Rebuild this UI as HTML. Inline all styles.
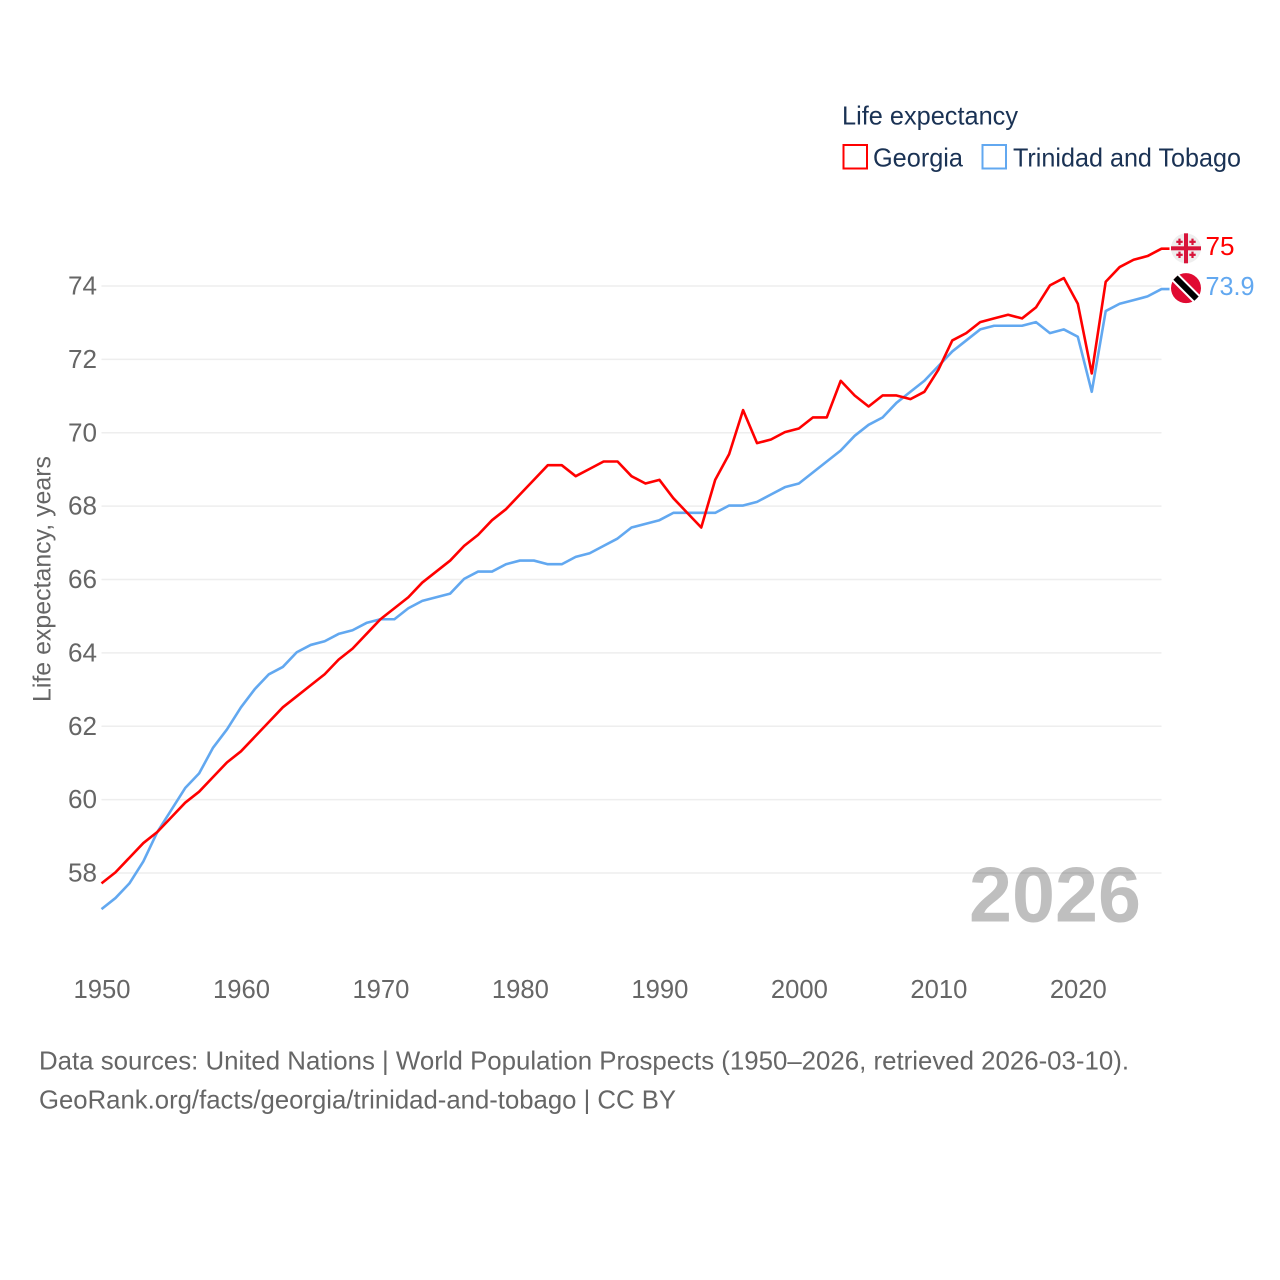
<!DOCTYPE html>
<html lang="en">
<head>
<meta charset="utf-8">
<title>Life expectancy: Georgia and Trinidad and Tobago</title>
<style>
html,body{margin:0;padding:0;background:#fff;}
svg{display:block;}
text{font-family:"Liberation Sans",sans-serif;}
</style>
</head>
<body>
<svg id="chart" xmlns="http://www.w3.org/2000/svg" width="1280" height="1280" viewBox="0 0 1280 1280">
  <rect width="1280" height="1280" fill="#fff"/>
  <g id="grid"></g>
  <text x="1141" y="921.5" text-anchor="end" font-size="78" font-weight="bold" fill="#000" fill-opacity="0.25" textLength="172" lengthAdjust="spacingAndGlyphs">2026</text>
  <g id="yticks"></g>
  <g id="xticks"></g>
  <text transform="translate(50.5,579) rotate(-90)" text-anchor="middle" font-size="25" fill="#666" textLength="246" lengthAdjust="spacingAndGlyphs">Life expectancy, years</text>
  <g id="lines"></g>
  <g id="ends"></g>

  <g>
    <text x="842" y="124.5" font-size="26" fill="#1a3254" textLength="176" lengthAdjust="spacingAndGlyphs">Life expectancy</text>
    <g>
      <rect x="843.5" y="145" width="23.5" height="23.5" fill="#fff" stroke="#ff0000" stroke-width="2"/>
      <text x="873" y="166.5" font-size="26" fill="#1a3254" textLength="90" lengthAdjust="spacingAndGlyphs">Georgia</text>
    </g>
    <g>
      <rect x="982.5" y="145" width="23.5" height="23.5" fill="#fff" stroke="#62a8f0" stroke-width="2"/>
      <text x="1013" y="166.5" font-size="26" fill="#1a3254" textLength="228" lengthAdjust="spacingAndGlyphs">Trinidad and Tobago</text>
    </g>
  </g>

  <text x="39" y="1069.5" font-size="26" fill="#666" textLength="1090" lengthAdjust="spacingAndGlyphs">Data sources: United Nations | World Population Prospects (1950–2026, retrieved 2026-03-10).</text>
  <text x="39" y="1108.5" font-size="26" fill="#666" textLength="637" lengthAdjust="spacingAndGlyphs">GeoRank.org/facts/georgia/trinidad-and-tobago | CC BY</text>
</svg>

<script>
const startYear = 1950;
const georgiaValues = [57.7,58.0,58.4,58.8,59.1,59.5,59.9,60.2,60.6,61.0,61.3,61.7,62.1,62.5,62.8,63.1,63.4,63.8,64.1,64.5,64.9,65.2,65.5,65.9,66.2,66.5,66.9,67.2,67.6,67.9,68.3,68.7,69.1,69.1,68.8,69.0,69.2,69.2,68.8,68.6,68.7,68.2,67.8,67.4,68.7,69.4,70.6,69.7,69.8,70.0,70.1,70.4,70.4,71.4,71.0,70.7,71.0,71.0,70.9,71.1,71.7,72.5,72.7,73.0,73.1,73.2,73.1,73.4,74.0,74.2,73.5,71.6,74.1,74.5,74.7,74.8,75.0];
const trinidadValues = [57.0,57.3,57.7,58.3,59.1,59.7,60.3,60.7,61.4,61.9,62.5,63.0,63.4,63.6,64.0,64.2,64.3,64.5,64.6,64.8,64.9,64.9,65.2,65.4,65.5,65.6,66.0,66.2,66.2,66.4,66.5,66.5,66.4,66.4,66.6,66.7,66.9,67.1,67.4,67.5,67.6,67.8,67.8,67.8,67.8,68.0,68.0,68.1,68.3,68.5,68.6,68.9,69.2,69.5,69.9,70.2,70.4,70.8,71.1,71.4,71.8,72.2,72.5,72.8,72.9,72.9,72.9,73.0,72.7,72.8,72.6,71.1,73.3,73.5,73.6,73.7,73.9];
const yTickValues = [58,60,62,64,66,68,70,72,74];
const xTickValues = [1950,1960,1970,1980,1990,2000,2010,2020];

const NS = 'http://www.w3.org/2000/svg';
const xScale = year => 101.5 + (year - 1950) * (1161.5 - 101.5) / 76;
const yScale = value => 873 - (value - 58) * (873 - 286) / 16;
const tailLength = 8;
const lineLift = 0.6;

function make(tag, attrs, parent, content) {
  const el = document.createElementNS(NS, tag);
  for (const k in attrs) el.setAttribute(k, attrs[k]);
  if (content !== undefined) el.textContent = content;
  parent.appendChild(el);
  return el;
}

const gridGroup = document.getElementById('grid');
const yTickGroup = document.getElementById('yticks');
yTickValues.forEach(v => {
  const line = make('line', {x1: 101.5, x2: 1161.5, y1: yScale(v), y2: yScale(v), stroke: '#eeeeee', 'stroke-width': 1.6}, gridGroup);
  
  
  const label = make('text', {x: 97, y: yScale(v) + 8.5, 'text-anchor': 'end', 'font-size': 26, fill: '#666', textLength: 29, lengthAdjust: 'spacingAndGlyphs'}, yTickGroup, String(v));
  
  
});

const xTickGroup = document.getElementById('xticks');
xTickValues.forEach(y => {
  const label = make('text', {x: xScale(y) + 0.5, y: 998, 'text-anchor': 'middle', 'font-size': 26, fill: '#666', textLength: 57, lengthAdjust: 'spacingAndGlyphs'}, xTickGroup, String(y));
  
  
});

function pathFor(values) {
  const body = values.map((v, i) => (i ? 'L' : 'M') + xScale(startYear + i).toFixed(2) + ' ' + (yScale(v) - lineLift).toFixed(2)).join(' ');
  const lastIndex = values.length - 1;
  const tail = 'L' + (xScale(startYear + lastIndex) + tailLength).toFixed(2) + ' ' + (yScale(values[lastIndex]) - lineLift).toFixed(2);
  return body + ' ' + tail;
}

const lineGroup = document.getElementById('lines');
const trinidadLine = make('path', {d: pathFor(trinidadValues), fill: 'none', stroke: '#62a8f0', 'stroke-width': 2.6, 'stroke-linejoin': 'round'}, lineGroup);


const georgiaLine = make('path', {d: pathFor(georgiaValues), fill: 'none', stroke: '#ff0000', 'stroke-width': 2.6, 'stroke-linejoin': 'round'}, lineGroup);



const endGroup = document.getElementById('ends');
const lastYear = startYear + georgiaValues.length - 1;
const flagX = xScale(lastYear) + 24.5;

/* Georgia flag marker */
const gy = yScale(georgiaValues[georgiaValues.length - 1]) - 1;
const georgiaFlag = make('g', {transform: 'translate(' + flagX + ',' + gy + ')'}, endGroup);


make('circle', {r: 15, fill: '#eeeeee'}, georgiaFlag);
make('rect', {x: -15, y: -2, width: 30, height: 4, fill: '#d8143a'}, georgiaFlag);
make('rect', {x: -2, y: -15, width: 4, height: 30, fill: '#d8143a'}, georgiaFlag);
[[-6.5,-6.5],[6.5,-6.5],[-6.5,6.5],[6.5,6.5]].forEach(p => {
  make('rect', {x: p[0] - 3.2, y: p[1] - 1.1, width: 6.4, height: 2.2, fill: '#d8143a'}, georgiaFlag);
  make('rect', {x: p[0] - 1.1, y: p[1] - 3.2, width: 2.2, height: 6.4, fill: '#d8143a'}, georgiaFlag);
});

/* Trinidad and Tobago flag marker */
const ty = yScale(trinidadValues[trinidadValues.length - 1]) - 1.5;
const trinidadFlag = make('g', {transform: 'translate(' + flagX + ',' + ty + ')'}, endGroup);


make('circle', {r: 15, fill: '#e00b32'}, trinidadFlag);
make('line', {x1: -10.5, y1: -10.5, x2: 10.5, y2: 10.5, stroke: '#ffffff', 'stroke-width': 10}, trinidadFlag);
make('line', {x1: -10.5, y1: -10.5, x2: 10.5, y2: 10.5, stroke: '#000000', 'stroke-width': 6}, trinidadFlag);

const georgiaEnd = make('text', {x: 1205.5, y: gy + 6.8, 'font-size': 26, fill: '#ff0000', textLength: 29, lengthAdjust: 'spacingAndGlyphs'}, endGroup, String(georgiaValues[georgiaValues.length - 1]));


const trinidadEnd = make('text', {x: 1205.5, y: ty + 7, 'font-size': 26, fill: '#62a8f0', textLength: 49, lengthAdjust: 'spacingAndGlyphs'}, endGroup, String(trinidadValues[trinidadValues.length - 1]));


</script>
</body>
</html>
